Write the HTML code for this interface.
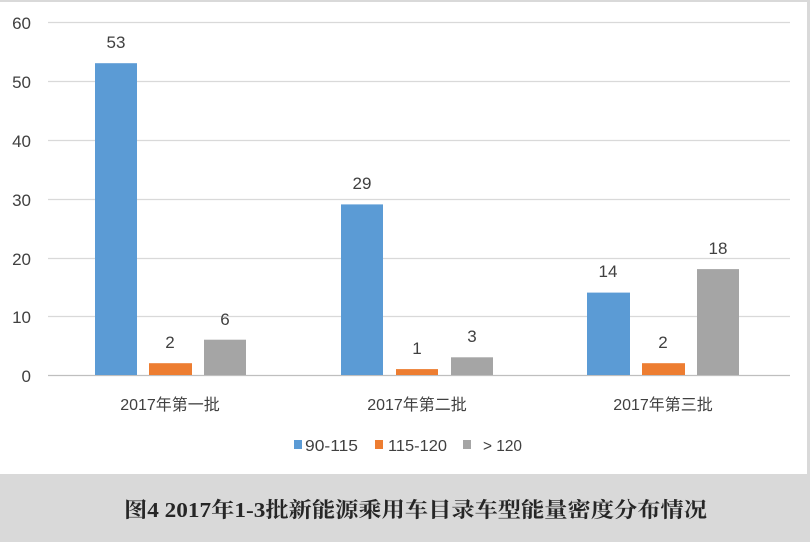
<!DOCTYPE html>
<html><head><meta charset="utf-8"><style>body{margin:0;width:810px;height:542px;overflow:hidden;background:#fff}</style></head>
<body>
<svg width="810" height="542" xmlns="http://www.w3.org/2000/svg" font-family="'Liberation Sans','Noto Sans CJK SC',sans-serif">
<rect x="0" y="0" width="810" height="542" fill="#fff"/>
<rect x="0" y="0" width="810" height="2" fill="#d9d9d9"/>
<rect x="807" y="0" width="3" height="474" fill="#d9d9d9"/>
<g stroke="#d9d9d9" stroke-width="1.2">
<line x1="48" x2="790" y1="22.5" y2="22.5"/><line x1="48" x2="790" y1="81.5" y2="81.5"/>
<line x1="48" x2="790" y1="140.5" y2="140.5"/><line x1="48" x2="790" y1="199.5" y2="199.5"/>
<line x1="48" x2="790" y1="258.5" y2="258.5"/><line x1="48" x2="790" y1="316.5" y2="316.5"/>
</g>
<line x1="48" x2="790" y1="375.5" y2="375.5" stroke="#bfbfbf" stroke-width="1.2"/>
<g fill="#404040" font-size="17" text-anchor="end">
<text x="31" y="29">60</text><text x="31" y="88">50</text><text x="31" y="147">40</text>
<text x="31" y="206">30</text><text x="31" y="265">20</text><text x="31" y="323">10</text><text x="31" y="382">0</text>
</g>
<g fill="#5b9bd5"><rect x="95" y="63.2" width="42" height="311.8"/><rect x="341" y="204.4" width="42" height="170.6"/><rect x="587" y="292.6" width="43" height="82.4"/></g>
<g fill="#ed7d31"><rect x="149" y="363.2" width="43" height="11.8"/><rect x="396" y="369.1" width="42" height="5.9"/><rect x="642" y="363.2" width="43" height="11.8"/></g>
<g fill="#a5a5a5"><rect x="204" y="339.7" width="42" height="35.3"/><rect x="451" y="357.3" width="42" height="17.7"/><rect x="697" y="269.1" width="42" height="105.9"/></g>
<g fill="#404040" font-size="17" text-anchor="middle">
<text x="116" y="48">53</text><text x="170" y="348">2</text><text x="225" y="325">6</text>
<text x="362" y="189">29</text><text x="417" y="354">1</text><text x="472" y="342">3</text>
<text x="608" y="277">14</text><text x="663" y="348">2</text><text x="718" y="254">18</text>
<text x="170" y="410" font-size="16">2017年第一批</text><text x="417" y="410" font-size="16">2017年第二批</text><text x="663" y="410" font-size="16">2017年第三批</text>
</g>
<g font-size="16" fill="#404040">
<rect x="294" y="440" width="8" height="9" fill="#5b9bd5"/><text x="305" y="451" textLength="53" lengthAdjust="spacingAndGlyphs">90-115</text>
<rect x="375" y="440" width="8" height="9" fill="#ed7d31"/><text x="388" y="451" textLength="59" lengthAdjust="spacingAndGlyphs">115-120</text>
<rect x="463" y="440" width="8" height="9" fill="#a5a5a5"/><text x="483" y="451" textLength="39" lengthAdjust="spacingAndGlyphs">&gt; 120</text>
</g>
<rect x="0" y="474" width="810" height="68" fill="#d9d9d9"/>
<text x="124" y="517" textLength="583" lengthAdjust="spacingAndGlyphs" font-size="21" font-weight="bold" fill="#262626" font-family="'Liberation Serif','Noto Serif CJK SC',serif">图4  2017年1-3批新能源乘用车目录车型能量密度分布情况</text>
</svg>
</body></html>
